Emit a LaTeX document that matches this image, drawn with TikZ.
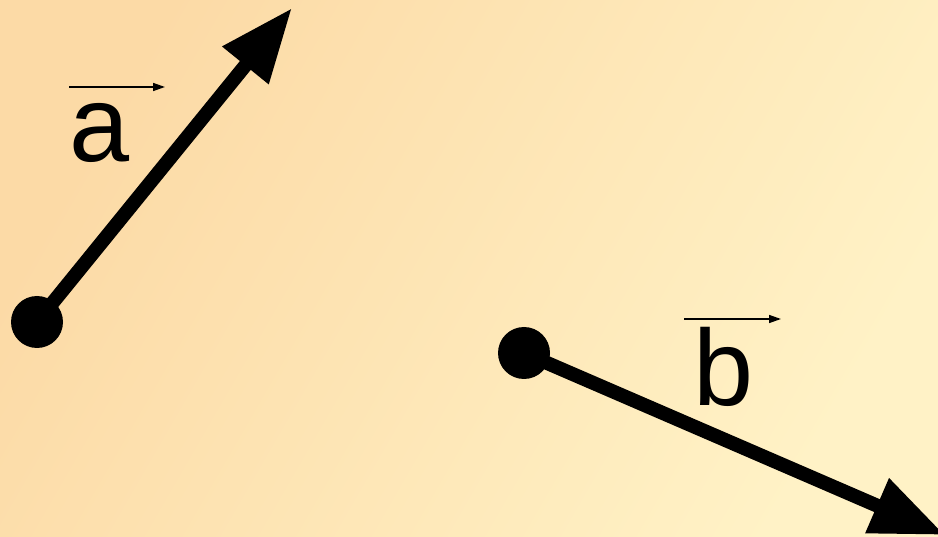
\documentclass[tikz,border=0pt]{standalone}
\usepackage{fontspec}
\setmainfont{Liberation Sans}
\usetikzlibrary{arrows.meta}
\definecolor{bgA}{RGB}{252,218,166}
\definecolor{bgB}{RGB}{255,242,198}
\tikzset{
  vec/.style={line width=14pt, -{Triangle[length=74pt,width=56pt]}},
  dotpt/.style={circle, fill=black, inner sep=0pt, minimum size=52pt},
  lbl/.style={font=\fontsize{108pt}{108pt}\selectfont, inner sep=0pt},
  over/.style={line width=1.5pt, -{Triangle[length=12pt,width=8pt]}}
}
\begin{document}
\begin{tikzpicture}[x=1pt,y=-1pt]
\useasboundingbox (0,0) rectangle (938,537);
\shade[left color=bgA, right color=bgB, shading angle=60] (0,0) rectangle (938,537);
% vector a
\node[dotpt] (a0) at (37,322) {};
\coordinate (a1) at (292,8);
\draw[vec] (a0.center) -- (a1);
\node[lbl, anchor=base] (la) at (100,162) {a};
\coordinate (ua0) at (69,87);
\coordinate (ua1) at (165,87);
\draw[over] (ua0) -- (ua1);
% vector b
\node[dotpt] (b0) at (524,353) {};
\coordinate (b1) at (945,535);
\draw[vec] (b0.center) -- (b1);
\node[lbl, anchor=base] (lb) at (724,406) {b};
\coordinate (ub0) at (684,319);
\coordinate (ub1) at (781,319);
\draw[over] (ub0) -- (ub1);
\end{tikzpicture}
\end{document}
